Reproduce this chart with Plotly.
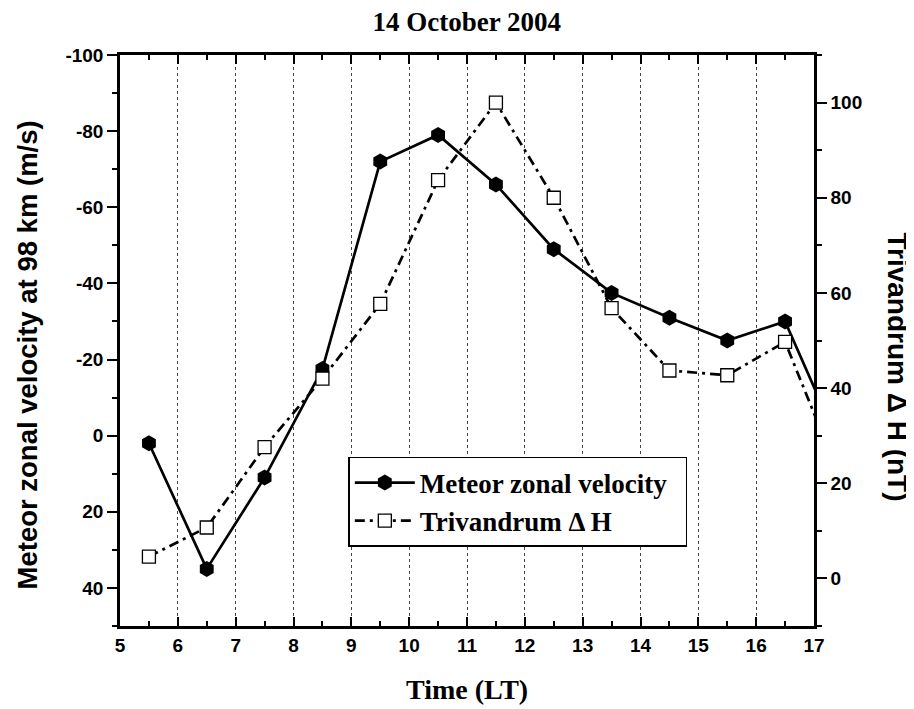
import plotly.graph_objects as go

# Data
time_lt = [5.5, 6.5, 7.5, 8.5, 9.5, 10.5, 11.5, 12.5, 13.5, 14.5, 15.5, 16.5, 17.5]
zonal_velocity = [2, 35, 11, -17.5, -72, -79, -66, -49, -37.5, -31, -25, -30, 4.5]
delta_h = [4.6, 10.7, 27.6, 42, 57.7, 83.7, 100, 80, 56.8, 43.7, 42.7, 49.7, 19.7]

x_ticks = list(range(5, 18))
left_ticks = [-100, -80, -60, -40, -20, 0, 20, 40]
right_ticks = [0, 20, 40, 60, 80, 100]

SANS = "Liberation Sans, Arial, sans-serif"
SERIF = "Liberation Serif, Times New Roman, serif"

fig = go.Figure()
fig.add_trace(go.Scatter(
    x=time_lt, y=zonal_velocity, name="<b>Meteor zonal velocity</b>\u00a0\u00a0",
    mode="lines+markers", yaxis="y",
    line=dict(color="black", width=2.7),
    marker=dict(symbol="hexagon", size=16, color="black", line=dict(width=0)),
))
fig.add_trace(go.Scatter(
    x=time_lt, y=delta_h, name="<b>Trivandrum \u0394 H</b>",
    mode="lines+markers", yaxis="y2",
    line=dict(color="black", width=2.7, dash="10px,5px,3px,5px"),
    marker=dict(symbol="square", size=13, color="white", line=dict(width=1.3, color="black")),
))

fig.update_layout(
    width=906, height=701,
    paper_bgcolor="white", plot_bgcolor="white",
    margin=dict(l=111.5, r=100, t=47, b=83, autoexpand=False),
    showlegend=True,
    title=dict(text="<b>14 October 2004</b>", x=(111.5 + 806) / 2 / 906, xanchor="center",
               y=0.98, yanchor="middle",
               font=dict(family=SERIF, size=27, color="black")),
    xaxis=dict(
        range=[5, 17], tickvals=x_ticks, ticktext=[str(v) for v in x_ticks],
        showline=True, linecolor="black", linewidth=2.5, mirror="ticks",
        ticks="inside", ticklen=9, tickwidth=2, tickcolor="black",
        minor=dict(dtick=0.5, tick0=5, ticks="inside", ticklen=5, tickwidth=1.5, tickcolor="black", showgrid=False),
        showgrid=True, gridcolor="#444444", gridwidth=1, griddash="dot",
        zeroline=False,
        tickfont=dict(family=SANS, size=19, color="black", weight="bold"),
    ),
    yaxis=dict(
        range=[50, -100], tickvals=left_ticks, ticktext=[str(v) for v in left_ticks],
        showline=True, linecolor="black", linewidth=2.5, mirror=False,
        ticks="outside", ticklen=10, tickwidth=2, tickcolor="black",
        minor=dict(dtick=10, tick0=0, ticks="outside", ticklen=5, tickwidth=1.5, tickcolor="black", showgrid=False),
        showgrid=False, zeroline=False,
        tickfont=dict(family=SANS, size=19, color="black", weight="bold"),
    ),
    yaxis2=dict(
        overlaying="y", side="right", anchor="x",
        range=[-10, 110], tickvals=right_ticks, ticktext=[str(v) for v in right_ticks],
        showline=True, linecolor="black", linewidth=2.5,
        ticks="outside", ticklen=10, tickwidth=2, tickcolor="black",
        minor=dict(dtick=10, tick0=0, ticks="outside", ticklen=5, tickwidth=1.5, tickcolor="black", showgrid=False),
        showgrid=False, zeroline=False,
        tickfont=dict(family=SANS, size=19, color="black", weight="bold"),
    ),
    legend=dict(
        x=0.329, y=0.296, xanchor="left", yanchor="top",
        bgcolor="white", bordercolor="black", borderwidth=1.5,
        font=dict(family=SERIF, size=27, color="black"),
        itemwidth=60, tracegroupgap=0,
    ),
    annotations=[
        dict(text="<b>Meteor zonal velocity at 98 km (m/s)</b>", xref="paper", yref="paper",
             x=-0.133, y=0.475, xanchor="center", yanchor="middle", textangle=-90, showarrow=False,
             font=dict(family=SANS, size=27.5, color="black")),
        dict(text="<b>Trivandrum \u0394 H (nT)</b>", xref="paper", yref="paper",
             x=1.12, y=0.454, xanchor="center", yanchor="middle", textangle=90, showarrow=False,
             font=dict(family=SANS, size=28, color="black")),
        dict(text="<b>Time (LT)</b>", xref="paper", yref="paper",
             x=0.5, y=-0.112, xanchor="center", yanchor="middle", showarrow=False,
             font=dict(family=SERIF, size=28, color="black")),
    ],
)

fig.write_html("out.html")
